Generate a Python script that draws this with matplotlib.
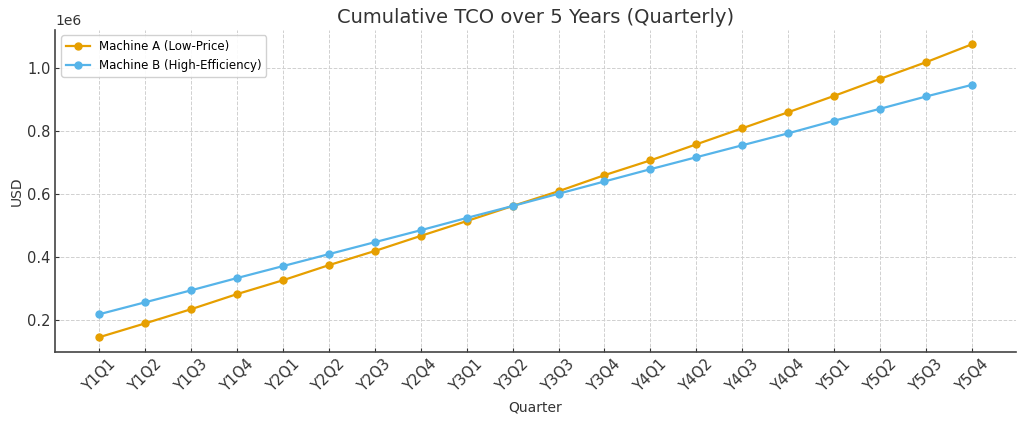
import matplotlib.pyplot as plt

quarters = ['Y1Q1', 'Y1Q2', 'Y1Q3', 'Y1Q4', 'Y2Q1', 'Y2Q2', 'Y2Q3', 'Y2Q4',
            'Y3Q1', 'Y3Q2', 'Y3Q3', 'Y3Q4', 'Y4Q1', 'Y4Q2', 'Y4Q3', 'Y4Q4',
            'Y5Q1', 'Y5Q2', 'Y5Q3', 'Y5Q4']

# cumulative TCO in USD
machine_a = [146000, 190000, 235000, 283000, 327000, 375000, 420000, 468000,
             515000, 563000, 610000, 661000, 708000, 759000, 810000, 861000,
             913000, 967000, 1020000, 1077000]
machine_b = [219000, 257000, 295000, 334000, 372000, 410000, 448000, 486000,
             525000, 563000, 602000, 641000, 680000, 718000, 756000, 794000,
             834000, 872000, 911000, 948000]

fig, ax = plt.subplots(figsize=(10.24, 4.22), dpi=100)
ax.plot(quarters, machine_a, marker='o', markersize=5, linewidth=1.6,
        color='#E69F00', label='Machine A (Low-Price)')
ax.plot(quarters, machine_b, marker='o', markersize=5, linewidth=1.6,
        color='#56B4E9', label='Machine B (High-Efficiency)')

ax.set_title('Cumulative TCO over 5 Years (Quarterly)', fontsize=14, color='#333333', pad=4.5)
ax.set_xlabel('Quarter', fontsize=10, color='#333333')
ax.set_ylabel('USD', fontsize=10, color='#333333', labelpad=2)
ax.grid(True, linestyle='--', linewidth=0.7, color='#d0d0d0')
ax.tick_params(axis='both', direction='in', length=3, labelsize=10.5,
               colors='#333333')
plt.setp(ax.get_xticklabels(), rotation=45, fontsize=10.5)
for s in ['top', 'right']:
    ax.spines[s].set_visible(False)
for s in ['left', 'bottom']:
    ax.spines[s].set_color('#444444')
    ax.spines[s].set_linewidth(1.2)
ax.legend(loc='upper left', fontsize=8.5, framealpha=0.9)

plt.subplots_adjust(left=0.054, right=0.992, top=0.93, bottom=0.166)
plt.savefig('out.png')
